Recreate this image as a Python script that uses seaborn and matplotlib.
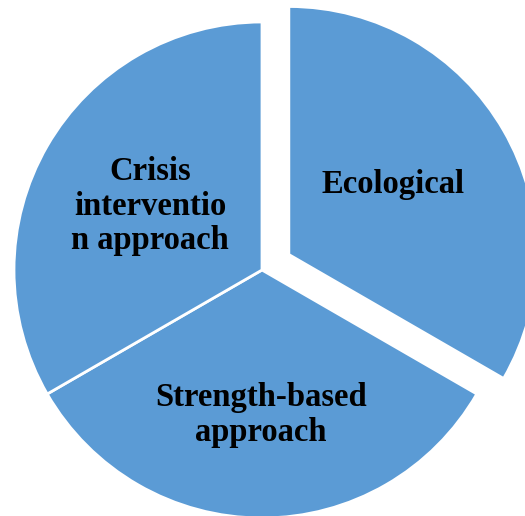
import matplotlib.pyplot as plt
import seaborn as sns

# data
labels = ['Ecological', 'Strength-based\napproach', 'Crisis\ninterventio\nn approach']
sizes = [1, 1, 1]
explode = [0.125, 0, 0]
# 标签位置 (数据坐标)
label_pos = [(0.528, 0.343), (-0.004, -0.585), (-0.452, 0.258)]

sns.set_theme(style='white')
plt.rcParams['font.family'] = ['Liberation Serif', 'DejaVu Serif']

fig = plt.figure(figsize=(5.25, 5.16), dpi=100)
ax = fig.add_axes([0, 0, 1, 1])

color = '#5B9BD5'
wedges, _ = ax.pie(sizes, explode=explode, startangle=90,
                   counterclock=False, colors=[color] * 3, radius=1.0,
                   wedgeprops=dict(edgecolor='white', linewidth=2))

for lab, (x, y) in zip(labels, label_pos):
    ax.text(x, y, lab, fontsize=23.5, fontweight='bold', color='black',
            ha='center', va='center', multialignment='center', linespacing=1.15)

# 把坐标范围对准参考图里的像素位置
cx, cy, r = 262, 270, 248
ax.set_xlim(-cx / r, (525 - cx) / r)
ax.set_ylim(-(516 - cy) / r, cy / r)
ax.set_aspect('auto')
ax.axis('off')

fig.savefig('out.png', dpi=100)
